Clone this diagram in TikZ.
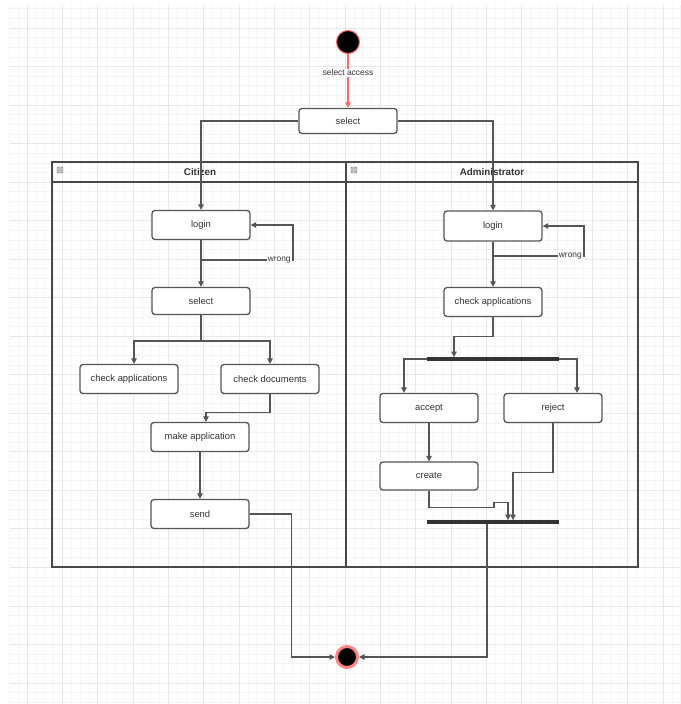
\documentclass[tikz,border=0pt]{standalone}
\usepackage{fontspec}
\setmainfont{Liberation Sans}
\usetikzlibrary{arrows.meta}

\definecolor{edge}{HTML}{555555}
\definecolor{txt}{HTML}{333333}
\definecolor{startred}{HTML}{FF6666}

\begin{document}
\begin{tikzpicture}[x=1pt,y=-1pt,
  act/.style={draw=edge,line width=1.3pt,rounded corners=3pt,fill=white,
    minimum width=98pt,minimum height=29pt,inner sep=1pt,
    font=\fontsize{9.4}{10}\selectfont,text=txt},
  bar/.style={fill=black!80,minimum width=132pt,minimum height=3.5pt,inner sep=0pt},
  flow/.style={draw=edge,line width=1.2pt,-{Triangle[width=5.5pt,length=5.5pt]}},
  lbl/.style={fill=white,inner sep=1pt,font=\fontsize{8.4}{9}\selectfont,text=txt},
  lane/.style={font=\fontsize{9.8}{10}\selectfont\bfseries,text=txt},
  icon/.style={draw=black!50,fill=black!25,rounded corners=1pt,minimum size=6pt,inner sep=0pt},
  gridmin/.style={draw=black!4,line width=0.5pt},
  gridmaj/.style={draw=black!9,line width=0.8pt}]
  \useasboundingbox (0,0) rectangle (680,704);

  % background grid
  \foreach \i in {0,...,76} \draw[gridmin] ({9.33+8.833*\i},5) -- ({9.33+8.833*\i},704);
  \foreach \j in {0,...,72} \draw[gridmin] (10,{8.7+9.63*\j}) -- (680,{8.7+9.63*\j});
  \foreach \i in {0,...,18} \draw[gridmaj] ({27+35.33*\i},5) -- ({27+35.33*\i},704);
  \foreach \j in {0,...,17} \draw[gridmaj] (10,{28+38.53*\j}) -- (680,{28+38.53*\j});

  % pool with two lanes
  \draw[edge!85!black,line width=1.4pt] (52,162) rectangle (638,567);
  \draw[edge!85!black,line width=1.4pt] (52,182) -- (638,182);
  \draw[edge!85!black,line width=1.4pt] (346,162) -- (346,567);
  \node[lane] (citz) at (200,172) {Citizen};
  \node[lane] (admn) at (492,172) {Administrator};
  \node[icon] (cico) at (60,170) {};
  \node[icon] (aico) at (354,170) {};

  % start / end
  \node[circle,fill=black,draw=startred,line width=1pt,minimum size=23pt,inner sep=0pt] (start) at (348,42) {};
  \node[circle,fill=black,draw=startred!80,line width=3pt,minimum size=21pt,inner sep=0pt] (final) at (347,657) {};

  \node[act,minimum height=25pt] (sel) at (348,121) {select};

  % citizen
  \node[act] (clogin) at (201,225) {login};
  \node[act,minimum height=27pt] (csel) at (201,301) {select};
  \node[act] (capp) at (129,379) {check applications};
  \node[act] (cdoc) at (270,379) {check documents};
  \node[act] (cmake) at (200,437) {make application};
  \node[act] (csend) at (200,514) {send};

  % administrator
  \node[act,minimum height=30pt] (alogin) at (493,226) {login};
  \node[act] (acheck) at (493,302) {check applications};
  \node[bar] (fork) at (493,359) {};
  \node[act] (accept) at (429,408) {accept};
  \node[act] (reject) at (553,408) {reject};
  \node[act,minimum height=28pt] (create) at (429,476) {create};
  \node[bar] (join) at (493,522) {};

  \coordinate (cwr) at (201,260);
  \coordinate (cwc) at (293,260);
  \coordinate (awr) at (493,256);
  \coordinate (awc) at (584,256);
  \coordinate (csplit) at (201,341);

  % connectors
  \draw[flow,draw=startred] (start) -- node[lbl,pos=0.35] {select access} (sel);
  \draw[flow] (sel.west) -| (clogin.north);
  \draw[flow] (sel.east) -| (alogin.north);

  \draw[flow] (clogin) -- (csel);
  \draw[flow] (cwr) -- node[lbl,pos=0.85] {wrong} (cwc) |- (clogin.east);
  \draw[edge,line width=1.2pt] (csel.south) -- (csplit);
  \draw[flow] (csplit) -| ([xshift=5pt]capp.north);
  \draw[flow] (csplit) -| (cdoc.north);
  \draw[flow] (cdoc.south) -- ++(0,18) -| ([xshift=6pt]cmake.north);
  \draw[flow] (cmake) -- (csend);
  \draw[flow] (csend.east) -- ++(42,0) |- (final.west);

  \draw[flow] (alogin) -- (acheck);
  \draw[flow] (awr) -- node[lbl,pos=0.85] {wrong} (awc) |- (alogin.east);
  \draw[flow] (acheck.south) -- ++(0,19) -| ([xshift=-39pt]fork.north);
  \draw[flow] (fork.west) -| ([xshift=-25pt]accept.north);
  \draw[flow] (fork.east) -| ([xshift=24pt]reject.north);
  \draw[flow] (accept) -- (create);
  \draw[flow] (create.south) -- ++(0,17) -- ++(65,0) -- ++(0,-5) -- ++(14,0) -- ([xshift=15pt]join.north);
  \draw[flow] (reject.south) -- ++(0,49) -| ([xshift=20pt]join.north);
  \draw[flow] ([xshift=-6pt]join.south) |- (final.east);
\end{tikzpicture}
\end{document}
